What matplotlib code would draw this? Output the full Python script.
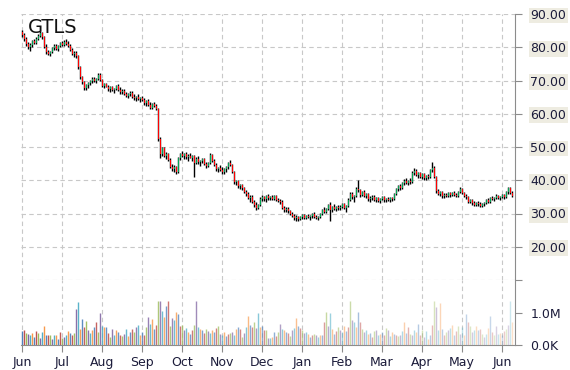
import numpy as np
import matplotlib
matplotlib.use('Agg')
import matplotlib.pyplot as plt

ticker = 'GTLS'
months = ['Jun', 'Jul', 'Aug', 'Sep', 'Oct', 'Nov', 'Dec',
          'Jan', 'Feb', 'Mar', 'Apr', 'May', 'Jun']

# daily candles: open, high, low, close
ohlc = [
    # Jun
    (84.5, 85.3, 83.2, 83.6), (83.6, 84.2, 82.0, 82.4), (82.4, 83.0, 80.5, 81.0), (81.0, 81.6, 79.4, 80.0),
    (80.0, 81.2, 79.0, 80.8), (80.8, 82.3, 80.2, 81.9), (81.9, 82.6, 80.9, 81.4), (81.4, 83.0, 81.0, 82.6),
    (82.6, 84.0, 82.1, 83.5), (83.5, 84.8, 83.0, 84.2), (84.2, 84.6, 82.5, 83.0), (83.0, 83.4, 79.8, 80.2),
    (80.2, 80.9, 77.9, 78.5), (78.5, 79.2, 77.6, 78.1), (78.1, 79.0, 77.4, 78.6), (78.6, 80.2, 78.2, 79.8),
    (79.8, 80.9, 79.1, 80.4), (80.4, 81.0, 79.3, 79.6), (79.6, 80.7, 79.0, 80.3), (80.3, 81.6, 80.0, 81.2),
    # Jul
    (81.2, 81.9, 80.4, 80.8), (80.8, 82.1, 80.5, 81.7), (81.7, 82.6, 80.8, 81.1), (81.1, 81.8, 80.0, 80.4),
    (80.4, 80.9, 78.8, 79.2), (79.2, 79.8, 77.6, 78.0), (78.0, 78.9, 77.1, 78.4), (78.4, 78.8, 76.9, 77.3),
    (77.3, 77.6, 73.5, 74.0), (74.0, 74.3, 70.6, 71.2), (71.2, 71.5, 68.8, 69.4), (69.4, 69.9, 67.2, 67.8),
    (67.8, 68.9, 67.0, 68.5), (68.5, 69.4, 67.8, 69.1), (69.1, 70.3, 68.7, 69.9), (69.9, 71.0, 69.2, 70.6),
    (70.6, 71.2, 69.4, 69.8), (69.8, 70.9, 69.3, 70.5), (70.5, 72.4, 70.1, 71.8), (71.8, 72.2, 70.0, 70.3),
    # Aug
    (70.3, 70.6, 68.0, 68.4), (68.4, 69.1, 67.6, 68.8), (68.8, 69.3, 67.9, 68.1), (68.1, 68.7, 66.9, 67.3),
    (67.3, 68.2, 66.5, 67.9), (67.9, 68.4, 66.8, 67.0), (67.0, 67.8, 66.2, 67.5), (67.5, 68.6, 67.1, 68.2),
    (68.2, 68.8, 66.9, 67.2), (67.2, 67.9, 66.0, 66.4), (66.4, 67.3, 65.8, 66.9), (66.9, 67.4, 65.6, 65.9),
    (65.9, 66.6, 64.9, 65.4), (65.4, 66.2, 64.6, 65.8), (65.8, 66.9, 65.3, 66.3), (66.3, 66.7, 64.8, 65.1),
    (65.1, 65.9, 64.2, 64.6), (64.6, 65.4, 63.7, 65.0), (65.0, 65.8, 64.1, 64.4), (64.4, 65.1, 63.5, 64.7),
    # Sep
    (64.7, 65.3, 63.8, 64.0), (64.0, 64.6, 62.6, 63.1), (63.1, 64.1, 62.4, 63.7), (63.7, 64.4, 62.2, 62.5),
    (62.5, 63.4, 61.3, 61.8), (61.8, 63.2, 61.4, 62.9), (62.9, 63.5, 61.9, 62.3), (62.3, 62.8, 61.0, 61.4),
    (61.4, 61.6, 51.8, 52.4), (52.4, 53.0, 46.8, 48.0), (48.0, 50.1, 47.2, 49.6), (49.6, 49.9, 46.9, 47.4),
    (47.4, 48.5, 46.3, 47.9), (47.9, 48.2, 45.8, 46.2), (46.2, 46.7, 43.6, 44.1), (44.1, 45.0, 42.8, 43.3),
    (43.3, 44.6, 42.5, 44.0), (44.0, 44.4, 41.8, 42.4), (42.4, 47.0, 42.1, 46.6), (46.6, 48.3, 46.0, 47.8),
    # Oct
    (47.8, 48.7, 46.9, 47.2), (47.2, 48.3, 46.5, 48.0), (48.0, 48.6, 46.4, 46.9), (46.9, 47.8, 45.7, 47.4),
    (47.4, 48.1, 46.6, 46.8), (46.8, 47.7, 45.9, 47.3), (47.3, 47.6, 41.0, 45.2), (45.2, 46.9, 44.8, 46.5),
    (46.5, 47.2, 45.0, 45.4), (45.4, 46.1, 44.3, 45.8), (45.8, 46.8, 45.2, 46.3), (46.3, 46.7, 44.6, 45.0),
    (45.0, 45.5, 43.8, 44.2), (44.2, 45.6, 43.9, 45.1), (45.1, 48.2, 44.8, 47.6), (47.6, 48.0, 45.4, 45.8),
    (45.8, 46.3, 44.2, 44.6), (44.6, 45.1, 42.9, 43.4), (43.4, 44.1, 42.5, 43.8), (43.8, 44.6, 42.9, 43.1),
    # Nov
    (43.1, 44.0, 41.9, 42.4), (42.4, 43.6, 41.8, 43.3), (43.3, 44.2, 42.6, 43.9), (43.9, 45.6, 43.5, 45.1),
    (45.1, 46.1, 44.2, 44.6), (44.6, 45.0, 42.1, 42.5), (42.5, 42.9, 38.9, 39.4), (39.4, 40.2, 38.6, 39.8),
    (39.8, 40.1, 37.8, 38.2), (38.2, 39.0, 37.4, 38.6), (38.6, 38.9, 37.2, 37.6), (37.6, 38.0, 36.1, 36.5),
    (36.5, 37.2, 35.4, 35.8), (35.8, 36.4, 34.3, 34.7), (34.7, 35.5, 33.5, 35.1), (35.1, 35.6, 33.2, 33.6),
    (33.6, 34.1, 32.0, 32.5), (32.5, 33.4, 31.2, 31.8), (31.8, 33.0, 31.3, 32.6), (32.6, 34.9, 32.2, 34.4),
    # Dec
    (34.4, 35.6, 33.8, 35.1), (35.1, 35.4, 33.9, 34.3), (34.3, 35.7, 33.6, 35.2), (35.2, 35.8, 34.1, 34.6),
    (34.6, 35.2, 34.0, 34.9), (34.9, 35.5, 34.2, 34.5), (34.5, 35.7, 34.1, 35.3), (35.3, 35.6, 33.9, 34.2),
    (34.2, 34.8, 33.4, 33.8), (33.8, 34.3, 33.0, 33.5), (33.5, 34.0, 31.4, 31.8), (31.8, 32.3, 30.6, 31.0),
    (31.0, 31.9, 30.4, 31.5), (31.5, 32.0, 30.3, 30.7), (30.7, 31.2, 29.6, 30.0), (30.0, 30.6, 28.8, 29.2),
    (29.2, 29.8, 28.1, 28.5), (28.5, 29.6, 27.6, 28.9), (28.9, 29.3, 27.8, 28.2), (28.2, 29.1, 27.9, 28.8),
    # Jan
    (28.8, 29.8, 28.4, 29.5), (29.5, 29.9, 28.3, 28.7), (28.7, 29.6, 28.2, 29.3), (29.3, 29.8, 28.5, 28.8),
    (28.8, 29.5, 28.1, 29.1), (29.1, 30.3, 28.7, 30.0), (30.0, 30.4, 28.6, 28.9), (28.9, 29.4, 28.2, 28.6),
    (28.6, 29.2, 28.0, 28.9), (28.9, 30.1, 28.6, 29.8), (29.8, 31.4, 29.5, 31.1), (31.1, 32.0, 30.3, 30.6),
    (30.6, 31.7, 30.2, 31.4), (31.4, 33.0, 31.0, 32.6), (32.6, 33.6, 27.6, 31.2), (31.2, 32.4, 30.6, 32.0),
    (32.0, 32.8, 31.0, 31.4), (31.4, 32.2, 30.8, 31.9), (31.9, 32.7, 31.1, 31.6), (31.6, 32.5, 31.0, 32.1),
    # Feb
    (32.1, 33.3, 31.6, 32.9), (32.9, 33.2, 31.3, 31.7), (31.7, 32.6, 30.6, 32.3), (32.3, 34.6, 32.0, 34.2),
    (34.2, 36.6, 33.8, 36.0), (36.0, 36.4, 34.3, 34.9), (34.9, 35.5, 33.6, 35.2), (35.2, 37.9, 35.0, 37.5),
    (37.5, 40.2, 36.4, 37.0), (37.0, 37.3, 35.1, 35.6), (35.6, 36.9, 35.2, 36.5), (36.5, 37.0, 35.0, 35.4),
    (35.4, 36.3, 34.6, 35.9), (35.9, 36.1, 33.9, 34.3), (34.3, 35.2, 33.6, 34.8), (34.8, 35.5, 34.0, 35.1),
    (35.1, 35.6, 33.8, 34.2), (34.2, 35.0, 33.5, 34.7), (34.7, 35.1, 33.4, 33.8), (33.8, 34.8, 33.3, 34.5),
    # Mar
    (34.5, 35.3, 34.0, 34.9), (34.9, 35.2, 33.6, 34.0), (34.0, 34.8, 33.5, 34.5), (34.5, 35.0, 33.7, 34.1),
    (34.1, 34.9, 33.6, 34.6), (34.6, 35.1, 33.9, 34.3), (34.3, 36.1, 34.0, 35.8), (35.8, 37.8, 35.5, 37.4),
    (37.4, 38.7, 36.9, 38.2), (38.2, 39.0, 37.2, 37.6), (37.6, 39.6, 37.3, 39.2), (39.2, 40.3, 38.5, 39.9),
    (39.9, 40.8, 38.9, 39.3), (39.3, 40.2, 38.6, 39.8), (39.8, 40.6, 39.0, 39.5), (39.5, 42.8, 39.2, 42.3),
    (42.3, 43.8, 41.6, 42.9), (42.9, 43.3, 41.2, 41.6), (41.6, 42.6, 40.8, 42.1), (42.1, 42.5, 40.6, 41.0),
    # Apr
    (41.0, 42.2, 40.3, 41.8), (41.8, 42.1, 40.2, 40.7), (40.7, 41.6, 40.1, 41.3), (41.3, 41.9, 40.4, 40.9),
    (40.9, 43.4, 40.6, 43.0), (43.0, 45.6, 42.4, 43.8), (43.8, 44.2, 40.6, 41.1), (41.1, 41.4, 36.2, 36.7),
    (36.7, 37.4, 35.5, 36.0), (36.0, 36.8, 35.2, 36.4), (36.4, 36.9, 34.8, 35.3), (35.3, 36.1, 34.6, 35.7),
    (35.7, 36.3, 35.0, 35.4), (35.4, 36.4, 35.1, 36.1), (36.1, 36.5, 35.0, 35.5), (35.5, 36.6, 35.2, 36.2),
    (36.2, 36.8, 35.3, 35.7), (35.7, 36.2, 34.9, 35.2), (35.2, 36.9, 34.9, 36.6), (36.6, 37.9, 36.2, 37.3),
    # May
    (37.3, 37.7, 35.8, 36.2), (36.2, 36.6, 34.9, 35.3), (35.3, 35.9, 34.4, 35.0), (35.0, 35.4, 33.2, 33.6),
    (33.6, 34.5, 33.1, 34.1), (34.1, 34.4, 32.7, 33.1), (33.1, 33.8, 32.3, 32.7), (32.7, 33.6, 32.2, 33.3),
    (33.3, 33.7, 32.4, 32.8), (32.8, 33.4, 32.0, 32.4), (32.4, 33.2, 31.9, 32.9), (32.9, 33.5, 32.3, 33.2),
    (33.2, 34.3, 32.9, 34.0), (34.0, 34.6, 33.2, 33.5), (33.5, 35.0, 33.2, 34.7), (34.7, 35.3, 34.0, 34.4),
    (34.4, 35.1, 33.9, 34.8), (34.8, 35.8, 34.5, 35.4), (35.4, 35.7, 34.3, 34.7), (34.7, 35.4, 34.2, 35.1),
    # Jun
    (35.1, 35.9, 34.6, 35.6), (35.6, 36.0, 34.5, 35.0), (35.0, 36.8, 34.8, 36.4), (36.4, 38.0, 36.0, 37.6),
    (37.6, 37.9, 35.8, 36.2), (36.2, 36.7, 34.9, 35.4),
]

# daily volume, millions of shares
volume = [
    0.42, 0.46, 0.36, 0.34, 0.30, 0.38, 0.26, 0.44, 0.36, 0.22, 0.40, 0.58, 0.30, 0.30, 0.30, 0.20, 0.30, 0.30, 0.18, 0.40,
    0.22, 0.24, 0.30, 0.42, 0.36, 0.30, 0.38, 1.10, 1.32, 0.48, 0.80, 0.55, 0.75, 0.45, 0.36, 0.45, 0.55, 0.72, 0.40, 1.00,
    0.60, 0.55, 0.55, 0.36, 0.25, 0.50, 0.30, 0.45, 0.40, 0.30, 0.28, 0.35, 0.50, 0.28, 0.40, 0.50, 0.40, 0.55, 0.62, 0.30,
    0.40, 0.30, 0.55, 0.85, 0.65, 0.80, 0.50, 0.62, 1.36, 1.36, 1.05, 0.86, 1.20, 1.36, 0.60, 0.82, 0.78, 1.02, 0.95, 0.60,
    0.62, 0.45, 0.52, 0.40, 0.35, 0.45, 0.62, 1.36, 0.55, 0.48, 0.45, 0.38, 0.48, 0.42, 0.38, 0.46, 0.40, 0.52, 0.58, 0.34,
    0.30, 0.40, 0.28, 0.35, 0.38, 0.40, 0.30, 0.48, 0.55, 0.50, 0.26, 0.38, 0.55, 0.88, 0.62, 0.55, 0.70, 0.52, 1.00, 0.55,
    0.58, 0.45, 0.45, 0.22, 0.22, 0.26, 0.40, 0.28, 0.40, 0.64, 0.48, 0.46, 0.40, 0.38, 0.28, 0.45, 0.52, 0.84, 0.60, 0.52,
    0.45, 0.38, 0.40, 0.34, 0.25, 0.30, 0.35, 0.32, 0.25, 0.32, 0.30, 0.70, 1.02, 0.60, 0.98, 0.48, 0.35, 0.42, 0.55, 0.45,
    0.40, 0.58, 0.42, 0.55, 1.36, 0.78, 0.70, 0.55, 1.03, 0.70, 0.48, 0.40, 0.45, 0.35, 0.38, 0.25, 0.42, 0.45, 0.32, 0.35,
    0.40, 0.32, 0.52, 0.45, 0.28, 0.40, 0.33, 0.32, 0.28, 0.30, 0.42, 0.72, 0.38, 0.55, 0.35, 0.30, 0.45, 0.40, 0.65, 0.30,
    0.45, 0.25, 0.42, 0.20, 0.30, 0.62, 1.36, 1.18, 0.45, 1.28, 0.48, 0.30, 0.40, 0.45, 0.52, 0.62, 0.30, 0.42, 0.58, 0.35,
    0.55, 0.30, 0.96, 0.72, 0.60, 0.40, 0.45, 0.58, 0.45, 0.50, 0.35, 0.25, 0.35, 0.52, 0.88, 0.40, 0.30, 0.60, 0.35, 0.38,
    0.30, 0.42, 0.50, 0.62, 1.36, 0.70,
]

palette = ['#4F81BD', '#C0504D', '#9BBB59', '#8064A2', '#4BACC6', '#F79646']
up_col = '#00A651'
down_col = '#FF0000'
grid_col = '#C8C8C8'
axis_col = '#8C8C8C'
text_col = '#1B1B3A'

data = np.array(ohlc)
o, h, l, c = data.T
n = len(data)
x = np.arange(n)
vol = np.array(volume) * 1e6

fig = plt.figure(figsize=(5.7, 3.7), dpi=100)
ax = fig.add_axes([21 / 570, 90 / 370, 494 / 570, 266 / 370])
axv = fig.add_axes([21 / 570, 25 / 370, 494 / 570, 65 / 370], sharex=ax)

# candles: black wick, coloured body beside it
ax.vlines(x, l, h, color='black', lw=1.0, zorder=3)
body_col = [up_col if cc >= oo else down_col for oo, cc in zip(o, c)]
ax.bar(x + 0.4, np.abs(c - o), bottom=np.minimum(o, c), width=0.55,
       color=body_col, zorder=4, linewidth=0)

# volume, colours cycle and fade towards the right
vcols = []
for i in range(n):
    rgba = list(matplotlib.colors.to_rgba(palette[i % len(palette)]))
    rgba[3] = 1.0 - 0.72 * i / (n - 1)
    vcols.append(rgba)
axv.vlines(x, 0, vol, colors=vcols, lw=1.0)

tick_pos = np.arange(0, n, 20)
ax.set_xlim(-0.5, n + 0.5)
ax.set_ylim(10, 90)
axv.set_ylim(0, 2e6)

for a in (ax, axv):
    for s in ('left', 'top', 'bottom'):
        a.spines[s].set_visible(False)
    a.spines['right'].set_color(axis_col)
    a.yaxis.tick_right()
    a.set_xticks(tick_pos)
    a.grid(axis='x', color=grid_col, linestyle=(0, (4, 3)), lw=0.8)
    a.tick_params(axis='y', colors=axis_col, labelcolor=text_col, length=5, labelsize=9, pad=6)
    a.set_axisbelow(True)
axv.spines['bottom'].set_visible(True)
axv.spines['bottom'].set_color(axis_col)

ax.tick_params(axis='x', length=0, labelbottom=False)
axv.set_xticklabels(months)
axv.tick_params(axis='x', colors=axis_col, labelcolor=text_col, length=5, labelsize=9, pad=3)

price_ticks = np.arange(10, 91, 10)
ax.set_yticks(price_ticks)
ax.set_yticklabels([''] + ['%.2f' % v for v in price_ticks[1:]])
ax.grid(axis='y', color=grid_col, linestyle=(0, (4, 3)), lw=0.8)
for lab in ax.get_yticklabels():
    lab.set_horizontalalignment('left')
    lab.set_bbox(dict(facecolor='#EEECE1', edgecolor='none', pad=1))

axv.set_yticks([0, 1e6])
axv.set_yticklabels(['0.0K', '1.0M'])

fig.text(28 / 570, 352 / 370, ticker, fontsize=14, color='#111111', va='top', ha='left')

fig.savefig('out.png', dpi=100)
